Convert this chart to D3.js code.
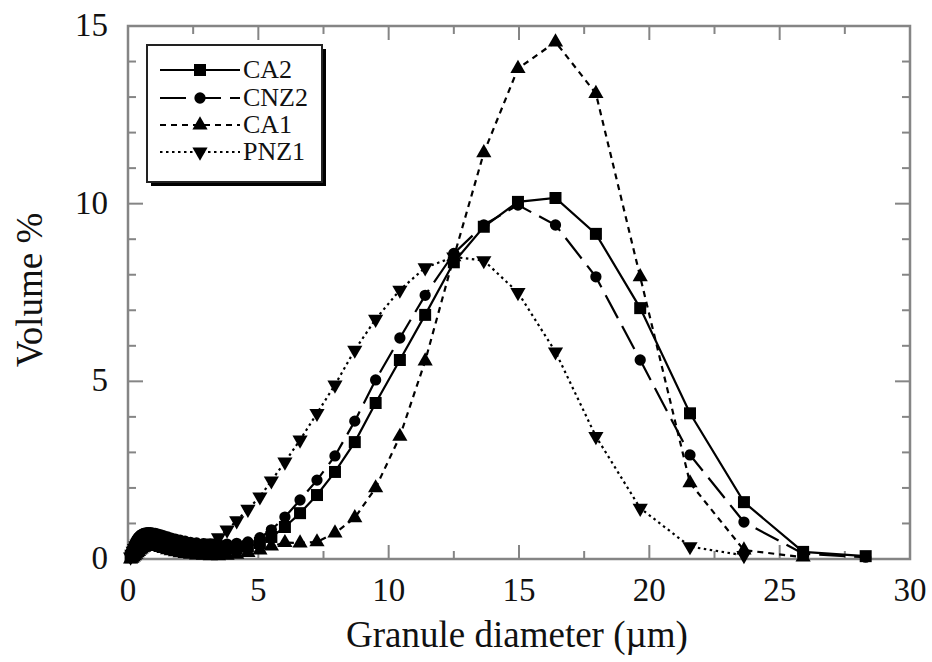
<!DOCTYPE html>
<html lang="en">
<head>
<meta charset="UTF-8">
<title>Granule size distribution</title>
<style>
  body { margin: 0; background: #fff; }
  svg text { font-family: "Liberation Serif", "DejaVu Serif", serif; fill: #111; }
</style>
</head>
<body>
<svg id="chart" width="932" height="662"></svg>
<script src="https://d3js.org/d3.v7.min.js"></script>
<script>
// granule diameter bins (um)
const diam = [0.1,0.15,0.2,0.25,0.3,0.35,0.4,0.45,0.5,0.55,0.6,0.66,0.73,0.8,0.87,0.96,1.05,1.15,1.26,1.38,1.52,1.66,
  1.82,2.0,2.19,2.4,2.63,2.89,3.16,3.47,3.8,4.17,4.6,5.06,5.5,6.02,6.6,7.25,7.94,8.7,9.5,10.43,
  11.4,12.5,13.65,14.96,16.4,17.95,19.65,21.56,23.63,25.9,28.3];

// volume % per series (null = no point)
const ca2 = [0.05,0.12,0.2,0.27,0.33,0.38,0.42,0.46,0.49,0.52,0.54,0.56,0.57,0.58,0.58,0.58,0.57,0.55,0.53,0.5,0.47,0.44,
  0.41,0.38,0.35,0.33,0.31,0.29,0.28,0.28,0.29,0.31,0.36,0.45,0.62,0.9,1.29,1.8,2.45,3.29,4.39,5.6,
  6.87,8.35,9.35,10.05,10.16,9.15,7.06,4.1,1.6,0.2,0.08];
const cnz2 = [0.14,0.24,0.34,0.42,0.5,0.56,0.61,0.65,0.68,0.7,0.72,0.73,0.74,0.74,0.74,0.73,0.72,0.7,0.68,0.65,0.62,0.59,
  0.56,0.53,0.5,0.47,0.45,0.43,0.42,0.42,0.42,0.44,0.48,0.6,0.82,1.18,1.66,2.22,2.9,3.88,5.04,6.22,
  7.42,8.6,9.4,9.96,9.4,7.94,5.6,2.93,1.04,0.15,0.05];
const ca1 = [0.0,0.02,0.05,0.09,0.13,0.17,0.21,0.25,0.28,0.31,0.33,0.35,0.37,0.38,0.38,0.38,0.37,0.35,0.32,0.29,0.26,0.23,
  0.2,0.17,0.15,0.13,0.11,0.1,0.09,0.09,0.1,0.13,0.18,0.25,0.36,0.46,0.45,0.48,0.73,1.16,2.0,3.45,
  5.57,8.5,11.43,13.8,14.55,13.1,7.94,2.14,0.25,0.05,null];
const pnz1 = [0.06,0.14,0.22,0.3,0.37,0.42,0.46,0.5,0.53,0.55,0.57,0.59,0.6,0.6,0.6,0.59,0.57,0.55,0.52,0.49,0.46,0.43,
  0.4,0.37,0.35,0.34,0.35,0.38,0.45,0.6,0.82,1.08,1.4,1.75,2.2,2.73,3.35,4.1,4.9,5.88,6.75,7.57,
  8.2,8.5,8.4,7.5,5.83,3.45,1.43,0.35,0.1,null,null];

const seriesNames = ["CA2", "CNZ2", "CA1", "PNZ1"];
const seriesValues = [ca2, cnz2, ca1, pnz1];
const seriesDash = [null, "26,9", "6,5", "2.5,3.5"];
const seriesSymbol = [d3.symbolSquare, d3.symbolCircle, d3.symbolTriangle, d3.symbolTriangle];
const seriesSymbolSize = [144, 100, 100, 100];
const seriesRotate = [0, 0, 0, 180];

const xTicks = [0, 5, 10, 15, 20, 25, 30];
const yTicks = [0, 5, 10, 15];

const svg = d3.select("#chart");
const m = { left: 128, right: 910, top: 26, bottom: 559 };
const x = d3.scaleLinear().domain([0, 30]).range([m.left, m.right]);
const y = d3.scaleLinear().domain([0, 15]).range([m.bottom, m.top]);

const axisColor = "#858585";

// frame
svg.append("rect")
  .attr("x", m.left).attr("y", m.top)
  .attr("width", m.right - m.left).attr("height", m.bottom - m.top)
  .attr("fill", "none").attr("stroke", axisColor).attr("stroke-width", 2.5);

// ticks (inward, all four sides)
const xMinor = d3.range(0, 30.01, 2.5);
const yMinor = d3.range(0, 15.01, 1);
xMinor.forEach(v => {
  const len = (v % 5 === 0) ? 14 : 8;
  if (v === 0 || v === 30) return;
  svg.append("line").attr("x1", x(v)).attr("x2", x(v)).attr("y1", m.bottom).attr("y2", m.bottom - len)
    .attr("stroke", axisColor).attr("stroke-width", 2);
  svg.append("line").attr("x1", x(v)).attr("x2", x(v)).attr("y1", m.top).attr("y2", m.top + len)
    .attr("stroke", axisColor).attr("stroke-width", 2);
});
yMinor.forEach(v => {
  const len = (v % 5 === 0) ? 15 : 8;
  if (v === 0 || v === 15) return;
  svg.append("line").attr("x1", m.left).attr("x2", m.left + len).attr("y1", y(v)).attr("y2", y(v))
    .attr("stroke", axisColor).attr("stroke-width", 2);
  svg.append("line").attr("x1", m.right).attr("x2", m.right - len).attr("y1", y(v)).attr("y2", y(v))
    .attr("stroke", axisColor).attr("stroke-width", 2);
});

// tick labels
svg.selectAll(".xlab").data(xTicks).enter().append("text")
  .attr("x", d => x(d)).attr("y", 601)
  .attr("text-anchor", "middle").attr("font-size", 33)
  .text(d => d);
svg.selectAll(".ylab").data(yTicks).enter().append("text")
  .attr("x", 108).attr("y", d => y(d) + 10)
  .attr("text-anchor", "end").attr("font-size", 33)
  .text(d => d);

// axis titles
svg.append("text")
  .attr("x", 517).attr("y", 647)
  .attr("text-anchor", "middle").attr("font-size", 37)
  .text("Granule diameter (\u00b5m)");
svg.append("text")
  .attr("transform", "translate(42,290) rotate(-90)")
  .attr("text-anchor", "middle").attr("font-size", 37)
  .text("Volume %");

// series
const plot = svg.append("g");
const line = d3.line()
  .defined(d => d[1] != null)
  .x(d => x(d[0])).y(d => y(d[1]));

seriesValues.forEach((vals, i) => {
  const pts = diam.map((d, j) => [d, vals[j]]);
  plot.append("path")
    .attr("d", line(pts))
    .attr("fill", "none").attr("stroke", "#000").attr("stroke-width", 2.2)
    .attr("stroke-dasharray", seriesDash[i]);
  const sym = d3.symbol().type(seriesSymbol[i]).size(seriesSymbolSize[i]);
  plot.selectAll(null).data(pts.filter(p => p[1] != null)).enter().append("path")
    .attr("d", sym)
    .attr("transform", p => `translate(${x(p[0])},${y(p[1])}) rotate(${seriesRotate[i]})`)
    .attr("fill", "#000");
});

// legend
const lg = svg.append("g");
lg.append("rect").attr("x", 151).attr("y", 49).attr("width", 175).attr("height", 137).attr("fill", "#000");
lg.append("rect").attr("x", 147).attr("y", 45).attr("width", 175).attr("height", 137)
  .attr("fill", "#fff").attr("stroke", "#222").attr("stroke-width", 2);
const rowY = [70, 98, 125, 152];
seriesNames.forEach((name, i) => {
  lg.append("line").attr("x1", 160).attr("x2", 240).attr("y1", rowY[i]).attr("y2", rowY[i])
    .attr("stroke", "#000").attr("stroke-width", 2.2)
    .attr("stroke-dasharray", seriesDash[i]);
  lg.append("path")
    .attr("d", d3.symbol().type(seriesSymbol[i]).size(seriesSymbolSize[i]))
    .attr("transform", `translate(200,${rowY[i]}) rotate(${seriesRotate[i]})`)
    .attr("fill", "#000");
  lg.append("text").attr("x", 243).attr("y", rowY[i] + 8)
    .attr("font-size", 26).text(name);
});
</script>
</body>
</html>
